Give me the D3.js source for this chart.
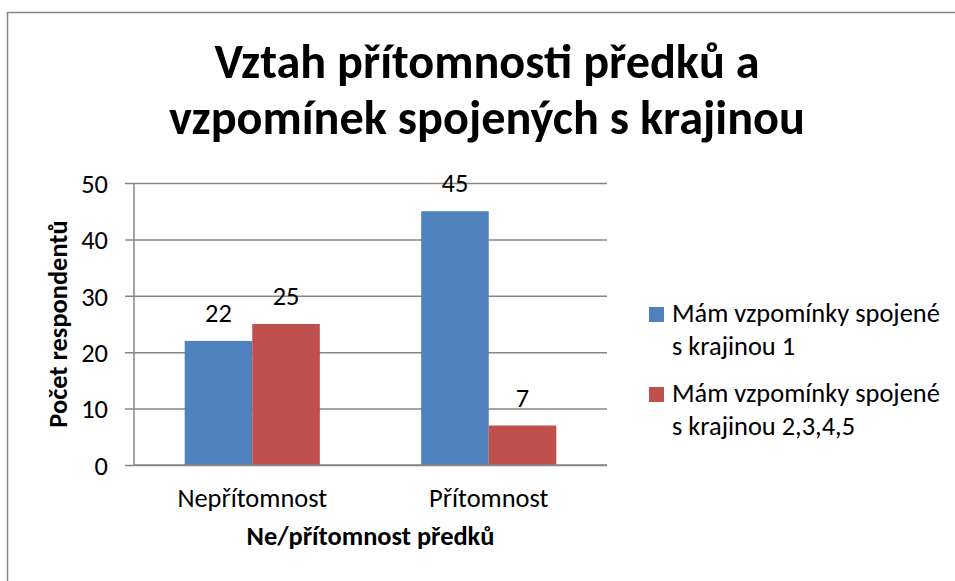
<!DOCTYPE html>
<html>
<head>
<meta charset="utf-8">
<script src="https://cdn.jsdelivr.net/npm/d3@7"></script>
<style>
  html, body { margin: 0; padding: 0; background: #fff; }
  svg { display: block; }
  text { font-family: Carlito, Lato, "Open Sans", sans-serif; fill: #000; }
</style>
</head>
<body>
<svg id="chart" width="955" height="581"></svg>
<script>
const categories = ["Nepřítomnost", "Přítomnost"];
const seriesNames = ["Mám vzpomínky spojené s krajinou 1", "Mám vzpomínky spojené s krajinou 2,3,4,5"];
const legendLines = [["Mám vzpomínky spojené", "s krajinou 1"], ["Mám vzpomínky spojené", "s krajinou 2,3,4,5"]];
const series1 = [22, 45];
const series2 = [25, 7];
const yTicks = [0, 10, 20, 30, 40, 50];
const titleLines = ["Vztah přítomnosti předků a", "vzpomínek spojených s krajinou"];
const xTitle = "Ne/přítomnost předků";
const yTitle = "Počet respondentů";
const colors = ["#4F81BD", "#C0504D"];

const svg = d3.select("#chart");
const plot = { left: 134, right: 607, top: 183, bottom: 465 };

// measure helper to pick font sizes matching the reference text widths
function fitSize(text, base, target, weight) {
  const t = svg.append("text").attr("font-size", base).attr("font-weight", weight || "normal").text(text);
  const w = t.node().getComputedTextLength();
  t.remove();
  return base * target / w;
}
const fsNormal = fitSize("Mám vzpomínky spojené", 20, 268);
const fsTitle = fitSize("vzpomínek spojených s krajinou", 40, 636, "bold");
const fsAxisTitle = fitSize(xTitle, 18, 248, "bold");

// frame (top and left edges visible)
svg.append("line").attr("x1", 7).attr("x2", 955).attr("y1", 12.5).attr("y2", 12.5)
  .attr("stroke", "#868686").attr("stroke-width", 1.5);
svg.append("line").attr("x1", 7.5).attr("x2", 7.5).attr("y1", 12).attr("y2", 581)
  .attr("stroke", "#868686").attr("stroke-width", 1.5);

const x0 = d3.scaleBand().domain(categories).range([plot.left, plot.right]).paddingInner(0).paddingOuter(0);
const gapFrac = 1.5; // Excel gap width 150%
const groupW = x0.bandwidth() * 2 / (2 + gapFrac);
const x1 = d3.scaleBand().domain([0, 1]).range([0, groupW]).padding(0);
const y = d3.scaleLinear().domain([0, 50]).range([plot.bottom, plot.top]);

// gridlines + ticks
const yAxis = d3.axisLeft(y).tickValues(yTicks).tickSize(9).tickPadding(7).tickFormat(d3.format("d"));
const gy = svg.append("g").attr("transform", `translate(${plot.left},0)`).call(yAxis);
gy.select(".domain").remove();
gy.selectAll(".tick line").attr("x2", plot.right - plot.left).attr("x1", -9)
  .attr("stroke", "#868686").attr("stroke-width", 1.5);
gy.selectAll(".tick text").attr("font-size", fsNormal).attr("font-family", "Carlito, Lato, 'Open Sans', sans-serif")
  .attr("fill", "#000").attr("x", -26).attr("dy", "0.35em");

// y axis line
svg.append("line").attr("x1", plot.left).attr("x2", plot.left).attr("y1", plot.top).attr("y2", plot.bottom)
  .attr("stroke", "#868686").attr("stroke-width", 1.5);

// bars
const data = categories.map((c, i) => ({ cat: c, vals: [series1[i], series2[i]] }));
const groups = svg.append("g").selectAll("g").data(data).join("g")
  .attr("transform", d => `translate(${x0(d.cat) + (x0.bandwidth() - groupW) / 2},0)`);
groups.selectAll("rect").data(d => d.vals.map((v, k) => ({ v, k }))).join("rect")
  .attr("x", d => x1(d.k)).attr("width", x1.bandwidth())
  .attr("y", d => y(d.v)).attr("height", d => y(0) - y(d.v))
  .attr("fill", d => colors[d.k]);
groups.selectAll("text.lbl").data(d => d.vals.map((v, k) => ({ v, k }))).join("text")
  .attr("class", "lbl")
  .attr("x", d => x1(d.k) + x1.bandwidth() / 2).attr("y", d => y(d.v) - 19)
  .attr("text-anchor", "middle").attr("font-size", fsNormal).text(d => d.v);

// x axis line
svg.append("line").attr("x1", plot.left).attr("x2", plot.right).attr("y1", plot.bottom).attr("y2", plot.bottom)
  .attr("stroke", "#868686").attr("stroke-width", 1.5);

// category labels
svg.append("g").selectAll("text").data(categories).join("text")
  .attr("x", d => x0(d) + x0.bandwidth() / 2).attr("y", 507)
  .attr("text-anchor", "middle").attr("font-size", fsNormal).text(d => d);

// axis titles
svg.append("text").attr("x", (plot.left + plot.right) / 2).attr("y", 545)
  .attr("text-anchor", "middle").attr("font-size", fsAxisTitle).attr("font-weight", "bold").text(xTitle);
svg.append("text").attr("transform", `translate(67,${(plot.top + plot.bottom) / 2}) rotate(-90)`)
  .attr("text-anchor", "middle").attr("font-size", fsAxisTitle).attr("font-weight", "bold").text(yTitle);

// title
svg.append("g").selectAll("text").data(titleLines).join("text")
  .attr("x", 487).attr("y", (d, i) => 78 + i * 56)
  .attr("text-anchor", "middle").attr("font-size", fsTitle).attr("font-weight", "bold").text(d => d);

// legend
const leg = svg.append("g").selectAll("g").data(seriesNames).join("g")
  .attr("transform", (d, i) => `translate(649,${307 + i * 80})`);
leg.append("rect").attr("width", 15).attr("height", 15).attr("fill", (d, i) => colors[i]);
leg.each(function (d, i) {
  d3.select(this).selectAll("text").data(legendLines[i]).join("text")
    .attr("x", 23).attr("y", (t, j) => 15 + j * 33).attr("font-size", fsNormal).text(t => t);
});
</script>
</body>
</html>
